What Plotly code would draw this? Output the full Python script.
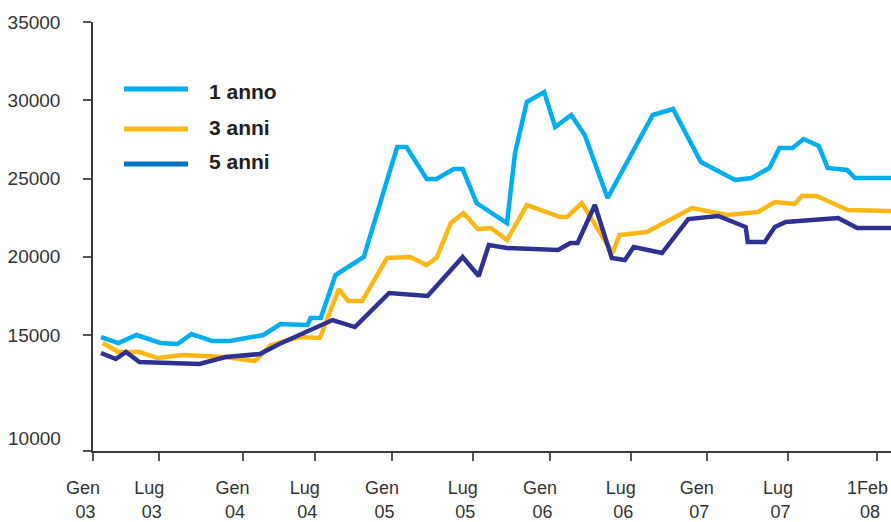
import plotly.graph_objects as go

# ---- data ----
anno1_x = ["2003-01-20", "2003-03-02", "2003-04-14", "2003-06-10", "2003-07-20", "2003-08-22",
           "2003-10-11", "2003-11-21", "2004-02-08", "2004-03-20", "2004-05-23", "2004-05-30",
           "2004-06-23", "2004-07-28", "2004-10-03", "2004-12-21", "2005-01-12", "2005-03-01",
           "2005-03-24", "2005-05-04", "2005-05-25", "2005-06-27", "2005-09-07", "2005-09-26",
           "2005-10-24", "2005-12-04", "2005-12-30", "2006-02-06", "2006-03-10", "2006-05-03",
           "2006-08-18", "2006-10-05", "2006-12-10", "2007-03-01", "2007-04-09", "2007-05-21",
           "2007-06-14", "2007-07-15", "2007-08-10", "2007-09-15", "2007-10-06", "2007-11-21",
           "2007-12-10", "2008-03-04"]
anno1_y = [14870, 14490, 15000, 14490, 14425, 15065,
           14617, 14617, 15000, 15703, 15640, 16086,
           16086, 18834, 19984, 27013, 27013, 24968,
           24968, 25607, 25607, 23435, 22157, 26629,
           29888, 30527, 28291, 29058, 27780, 23754,
           29058, 29441, 26054, 24904, 25032, 25671,
           26949, 26949, 27524, 27077, 25671, 25543,
           25032, 25032]

anni3_x = ["2003-01-24", "2003-03-02", "2003-04-21", "2003-06-03", "2003-08-01", "2003-11-09",
           "2004-01-19", "2004-02-26", "2004-05-04", "2004-06-21", "2004-08-05", "2004-08-27",
           "2004-09-29", "2004-11-27", "2005-01-21", "2005-02-28", "2005-03-24", "2005-04-27",
           "2005-05-27", "2005-06-30", "2005-07-31", "2005-09-07", "2005-10-24", "2006-01-11",
           "2006-01-27", "2006-03-03", "2006-05-15", "2006-05-31", "2006-08-04", "2006-11-19",
           "2007-02-11", "2007-04-24", "2007-06-03", "2007-07-20", "2007-08-06", "2007-09-10",
           "2007-11-23", "2008-03-04"]
anni3_y = [14489, 13914, 13914, 13530, 13722, 13594,
           13339, 14361, 14872, 14808, 17939, 17173,
           17173, 19920, 19984, 19473, 19920, 22157,
           22796, 21773, 21837, 21070, 23307, 22540,
           22540, 23435, 20240, 21390, 21581, 23115,
           22668, 22860, 23498, 23371, 23882, 23882,
           22987, 22923]

anni5_x = ["2003-01-20", "2003-02-24", "2003-03-20", "2003-04-21", "2003-09-10", "2003-11-11",
           "2004-01-31", "2004-03-17", "2004-07-21", "2004-09-12", "2004-12-02", "2005-03-03",
           "2005-05-25", "2005-07-02", "2005-07-26", "2005-09-07", "2006-01-06", "2006-02-04",
           "2006-02-21", "2006-04-03", "2006-05-13", "2006-06-13", "2006-07-04", "2006-09-09",
           "2006-11-10", "2007-01-20", "2007-03-26", "2007-03-31", "2007-05-10", "2007-06-03",
           "2007-06-29", "2007-10-31", "2007-12-15", "2008-03-04"]
anni5_y = [13850, 13466, 13914, 13275, 13147, 13594,
           13786, 14425, 15958, 15511, 17684, 17492,
           19984, 18770, 20751, 20559, 20431, 20879,
           20879, 23307, 19920, 19792, 20623, 20240,
           22412, 22604, 21901, 20942, 20942, 21901,
           22220, 22476, 21837, 21837]

series_names = ["1 anno", "3 anni", "5 anni"]

x_tickvals = ["2003-01-01", "2003-06-07", "2003-12-21", "2004-06-09", "2004-12-09", "2005-06-18",
              "2005-12-18", "2006-06-27", "2006-12-24", "2007-07-04", "2008-02-01"]
x_ticktext = ["Gen<br>\u00a003", "Lug<br>\u00a003", "Gen<br>\u00a004", "Lug<br>\u00a004",
              "Gen<br>\u00a005", "Lug<br>\u00a005", "Gen<br>\u00a006", "Lug<br>\u00a006",
              "Gen<br>\u00a007", "Lug<br>\u00a007", "1Feb<br>\u00a008"]
y_tickvals = [7590, 15000, 20000, 25000, 30000, 35000]
y_ticktext = ["", "15000", "20000", "25000", "30000", "35000"]
y_bottom_label = "10000"

# ---- styling ----
W, H = 891, 522
ML, MR, MT, MB = 93, 0, 22, 71
col1, col3, col5 = "#00aeef", "#fdb714", "#2e3192"
col5_legend = "#0072bc"
axis_col = "#3a3a3a"
txt_col = "#333333"
font_fam = "Liberation Sans, Arial, sans-serif"

fig = go.Figure()
fig.add_trace(go.Scatter(x=anno1_x, y=anno1_y, mode="lines", name=series_names[0],
                         line=dict(color=col1, width=4.5), showlegend=False))
fig.add_trace(go.Scatter(x=anni3_x, y=anni3_y, mode="lines", name=series_names[1],
                         line=dict(color=col3, width=4.5), showlegend=False))
fig.add_trace(go.Scatter(x=anni5_x, y=anni5_y, mode="lines", name=series_names[2],
                         line=dict(color=col5, width=4.5), showlegend=False))

pw, ph = W - ML - MR, H - MT - MB


def px_x(p):
    return (p - ML) / pw


def px_y(p):
    return (H - MB - p) / ph


# custom legend (line samples + bold labels)
legend_rows = [(89, 91, col1), (129, 128, col3), (164, 161, col5_legend)]
for (ly, ty, c), name in zip(legend_rows, series_names):
    fig.add_shape(type="line", xref="paper", yref="paper",
                  x0=px_x(124), x1=px_x(188), y0=px_y(ly), y1=px_y(ly),
                  line=dict(color=c, width=5))
    fig.add_annotation(xref="paper", yref="paper", x=px_x(207), y=px_y(ty),
                       xanchor="left", yanchor="middle", showarrow=False, text="<b>%s</b>" % name,
                       font=dict(family=font_fam, size=21, color="#231f20"))

fig.add_annotation(xref="paper", yref="paper", x=0, y=px_y(438), xanchor="right", yanchor="middle",
                   xshift=-30, showarrow=False, text=y_bottom_label,
                   font=dict(family=font_fam, size=19, color=txt_col))

fig.update_layout(
    width=W, height=H,
    margin=dict(l=ML, r=MR, t=MT, b=MB, pad=0, autoexpand=False),
    paper_bgcolor="white", plot_bgcolor="white",
    showlegend=False,
    font=dict(family=font_fam, size=18, color=txt_col),
)
fig.update_xaxes(type="date", range=["2003-01-01", "2008-03-04"], automargin=False,
                 tickmode="array", tickvals=x_tickvals, ticktext=x_ticktext,
                 showgrid=False, zeroline=False, showline=True, linecolor=axis_col, linewidth=1.5,
                 ticks="outside", ticklen=8, tickwidth=1.5, tickcolor="#555555",
                 ticklabelshift=-10, ticklabelstandoff=12,
                 tickfont=dict(family=font_fam, size=18, color=txt_col))
fig.update_yaxes(range=[7590, 35000], automargin=False,
                 tickmode="array", tickvals=y_tickvals, ticktext=y_ticktext,
                 showgrid=False, zeroline=False, showline=True, linecolor=axis_col, linewidth=1.5,
                 ticks="outside", ticklen=8, tickwidth=1.5, tickcolor="#555555",
                 ticklabelstandoff=19,
                 tickfont=dict(family=font_fam, size=19, color=txt_col))

fig.write_html("out.html")
